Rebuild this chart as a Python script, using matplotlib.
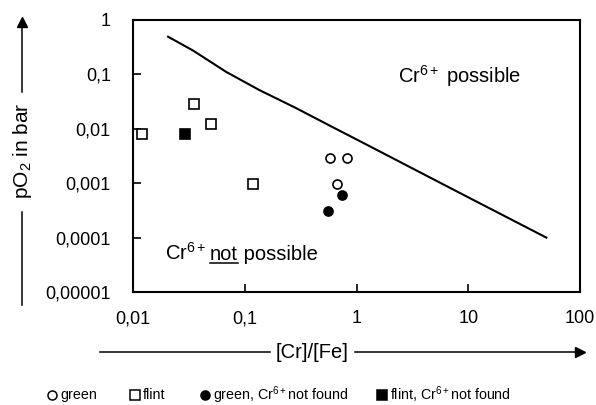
import matplotlib
matplotlib.use("Agg")
import matplotlib.pyplot as plt
from matplotlib.lines import Line2D
from matplotlib.ticker import FixedLocator, FixedFormatter, NullLocator

plt.rcParams['font.family'] = ['Liberation Sans', 'DejaVu Sans']
plt.rcParams['mathtext.fontset'] = 'custom'
plt.rcParams['mathtext.rm'] = 'Liberation Sans'
plt.rcParams['mathtext.it'] = 'Liberation Sans:italic'
plt.rcParams['mathtext.default'] = 'regular'

# data
flint_x = [0.012, 0.035, 0.050, 0.118]
flint_y = [0.008, 0.029, 0.0123, 0.00098]
flint_nf_x = [0.029]
flint_nf_y = [0.008]
green_x = [0.574, 0.815, 0.663]
green_y = [0.0029, 0.0029, 0.00095]
green_nf_x = [0.745, 0.56]
green_nf_y = [0.00061, 0.00031]

# Cr6+ limit curve
limit_x = [0.0206, 0.0344, 0.0683, 0.135, 0.287, 0.608, 1.29, 10.0, 50.0]
limit_y = [0.493, 0.275, 0.111, 0.0516, 0.0241, 0.0108, 0.00487, 0.00055, 0.0001]

xticks = [0.01, 0.1, 1, 10, 100]
xlabels = ['0,01', '0,1', '1', '10', '100']
yticks = [0.00001, 0.0001, 0.001, 0.01, 0.1, 1]
ylabels = ['0,00001', '0,0001', '0,001', '0,01', '0,1', '1']

W, H = 596, 405


def fx(px):
    return px / W


def fy(py):
    return 1 - py / H


fig = plt.figure(figsize=(W / 100, H / 100), dpi=100)
ax = fig.add_axes([fx(133), fy(292), 447 / W, 272 / H])

ax.plot(limit_x, limit_y, color='black', lw=1.5)
ax.plot(flint_x, flint_y, 's', ms=7.5, mfc='white', mec='black', mew=1.2, ls='none')
ax.plot(flint_nf_x, flint_nf_y, 's', ms=7.5, mfc='black', mec='black', mew=1.2, ls='none')
ax.plot(green_x, green_y, 'o', ms=6.5, mfc='white', mec='black', mew=1.2, ls='none')
ax.plot(green_nf_x, green_nf_y, 'o', ms=6.5, mfc='black', mec='black', mew=1.2, ls='none')

ax.set_xscale('log')
ax.set_yscale('log')
ax.set_xlim(0.01, 100)
ax.set_ylim(0.00001, 1)
ax.xaxis.set_major_locator(FixedLocator(xticks))
ax.xaxis.set_major_formatter(FixedFormatter(xlabels))
ax.yaxis.set_major_locator(FixedLocator(yticks))
ax.yaxis.set_major_formatter(FixedFormatter(ylabels))
ax.xaxis.set_minor_locator(NullLocator())
ax.yaxis.set_minor_locator(NullLocator())
ax.tick_params(axis='both', direction='in', length=6, width=1.2, labelsize=13)
ax.tick_params(axis='x', pad=13)
ax.tick_params(axis='y', pad=16)
for s in ax.spines.values():
    s.set_linewidth(1.5)

fig.text(fx(398), fy(83), 'Cr$^{6+}$ possible', fontsize=14.5, va='baseline')

# "Cr6+ not possible" with underlined "not"
fig.canvas.draw()
r = fig.canvas.get_renderer()
y_txt = fy(260)
t1 = fig.text(fx(165), y_txt, 'Cr$^{6+}$ ', fontsize=14.5, va='baseline')
b1 = t1.get_window_extent(r)
t2 = fig.text(b1.x1 / W, y_txt, 'not', fontsize=14.5, va='baseline')
b2 = t2.get_window_extent(r)
t3 = fig.text(b2.x1 / W, y_txt, ' possible', fontsize=14.5, va='baseline')
fig.add_artist(Line2D([b2.x0 / W, b2.x1 / W], [fy(262.5), fy(262.5)],
                      color='black', lw=1.1, transform=fig.transFigure))

# y axis label with arrow
fig.text(fx(22), fy(151), 'pO$_2$ in bar', rotation=90, fontsize=15, ha='center', va='center')
fig.add_artist(Line2D([fx(22), fx(22)], [fy(305), fy(212)], color='black', lw=1.1,
                      transform=fig.transFigure))
fig.add_artist(Line2D([fx(22), fx(22)], [fy(92), fy(25)], color='black', lw=1.1,
                      transform=fig.transFigure))
fig.add_artist(Line2D([fx(22)], [fy(22)], marker='^', ms=7, color='black',
                      transform=fig.transFigure))

# x axis label with arrow
fig.text(fx(312), fy(352), '[Cr]/[Fe]', fontsize=14.5, ha='center', va='center')
fig.add_artist(Line2D([fx(100), fx(270)], [fy(352), fy(352)], color='black', lw=1.1,
                      transform=fig.transFigure))
fig.add_artist(Line2D([fx(355), fx(578)], [fy(352), fy(352)], color='black', lw=1.1,
                      transform=fig.transFigure))
fig.add_artist(Line2D([fx(580)], [fy(352)], marker='>', ms=7, color='black',
                      transform=fig.transFigure))

# legend row
ly = fy(395)
items = [(52, 'o', 'white', 'green'),
         (135, 's', 'white', 'flint'),
         (205, 'o', 'black', 'green, Cr$^{6+}$not found'),
         (382, 's', 'black', 'flint, Cr$^{6+}$not found')]
for px, mk, fc, label in items:
    fig.add_artist(Line2D([fx(px)], [ly], marker=mk, ms=6.5 if mk == 'o' else 7.5, mfc=fc,
                          mec='black', mew=1.1, ls='none', transform=fig.transFigure))
    fig.text(fx(px + 8), ly, label, fontsize=10.3, va='center')

fig.savefig('out.png', dpi=100)
